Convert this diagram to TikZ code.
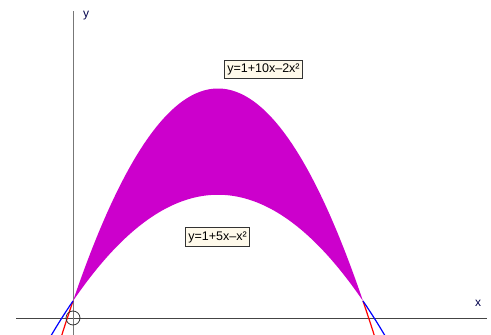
\documentclass[tikz,border=0pt]{standalone}
\usepackage{fontspec}
\setmainfont{Liberation Sans}
\definecolor{fillmag}{HTML}{CC00CC}
\definecolor{labelbg}{HTML}{FFFAEB}
\definecolor{axisgray}{HTML}{444444}
\definecolor{yaxisgray}{HTML}{777777}
\definecolor{curvered}{HTML}{FF0000}
\definecolor{curveblue}{HTML}{0000FF}
\tikzset{
  eqlabel/.style={draw=black!80, fill=labelbg, line width=0.8pt, inner xsep=3pt, inner ysep=3.5pt, font=\fontsize{12.5}{14}\selectfont},
  axlabel/.style={text=black!70!blue, font=\fontsize{12}{14}\selectfont, inner sep=0pt},
  curve/.style={line width=1.2pt}
}
\begin{document}
\begin{tikzpicture}[x=1pt,y=-1pt]
\useasboundingbox (0,0) rectangle (491,335);
\fill[white] (0,0) rectangle (491,335);
\begin{scope}
\clip (0,0) rectangle (491,335);
% axes
\coordinate (xl) at (16,318);
\coordinate (xr) at (487,318);
\coordinate (yt) at (73,11);
\coordinate (yb) at (73,335);
\draw[axisgray, line width=1pt] (xl) -- (xr);
\draw[yaxisgray, line width=1pt] (yt) -- (yb);
\begin{scope}[shift={(73,318)}, x=58pt, y=17pt]
  \fill[fillmag] plot[domain=0:5, samples=120] (\x,{1+10*\x-2*\x*\x})
     -- plot[domain=5:0, samples=120] (\x,{1+5*\x-\x*\x}) -- cycle;
  \draw[curve, curvered] plot[domain=-0.25:0, samples=10] (\x,{1+10*\x-2*\x*\x});
  \draw[curve, curvered] plot[domain=5:5.25, samples=10] (\x,{1+10*\x-2*\x*\x});
  \draw[curve, curveblue] plot[domain=-0.45:0, samples=10] (\x,{1+5*\x-\x*\x});
  \draw[curve, curveblue] plot[domain=5:5.45, samples=10] (\x,{1+5*\x-\x*\x});
\end{scope}
\node[draw=black!80, line width=0.8pt, circle, minimum size=14pt, inner sep=0pt] (o) at (73,318) {};
\end{scope}
\node[axlabel] (ylab) at (86,16) {y};
\node[axlabel] (xlab) at (478,303) {x};
\node[eqlabel] (l1) at (263.5,69.5) {y=1+10x–2x²};
\node[eqlabel] (l2) at (217.5,237) {y=1+5x–x²};
\end{tikzpicture}
\end{document}
